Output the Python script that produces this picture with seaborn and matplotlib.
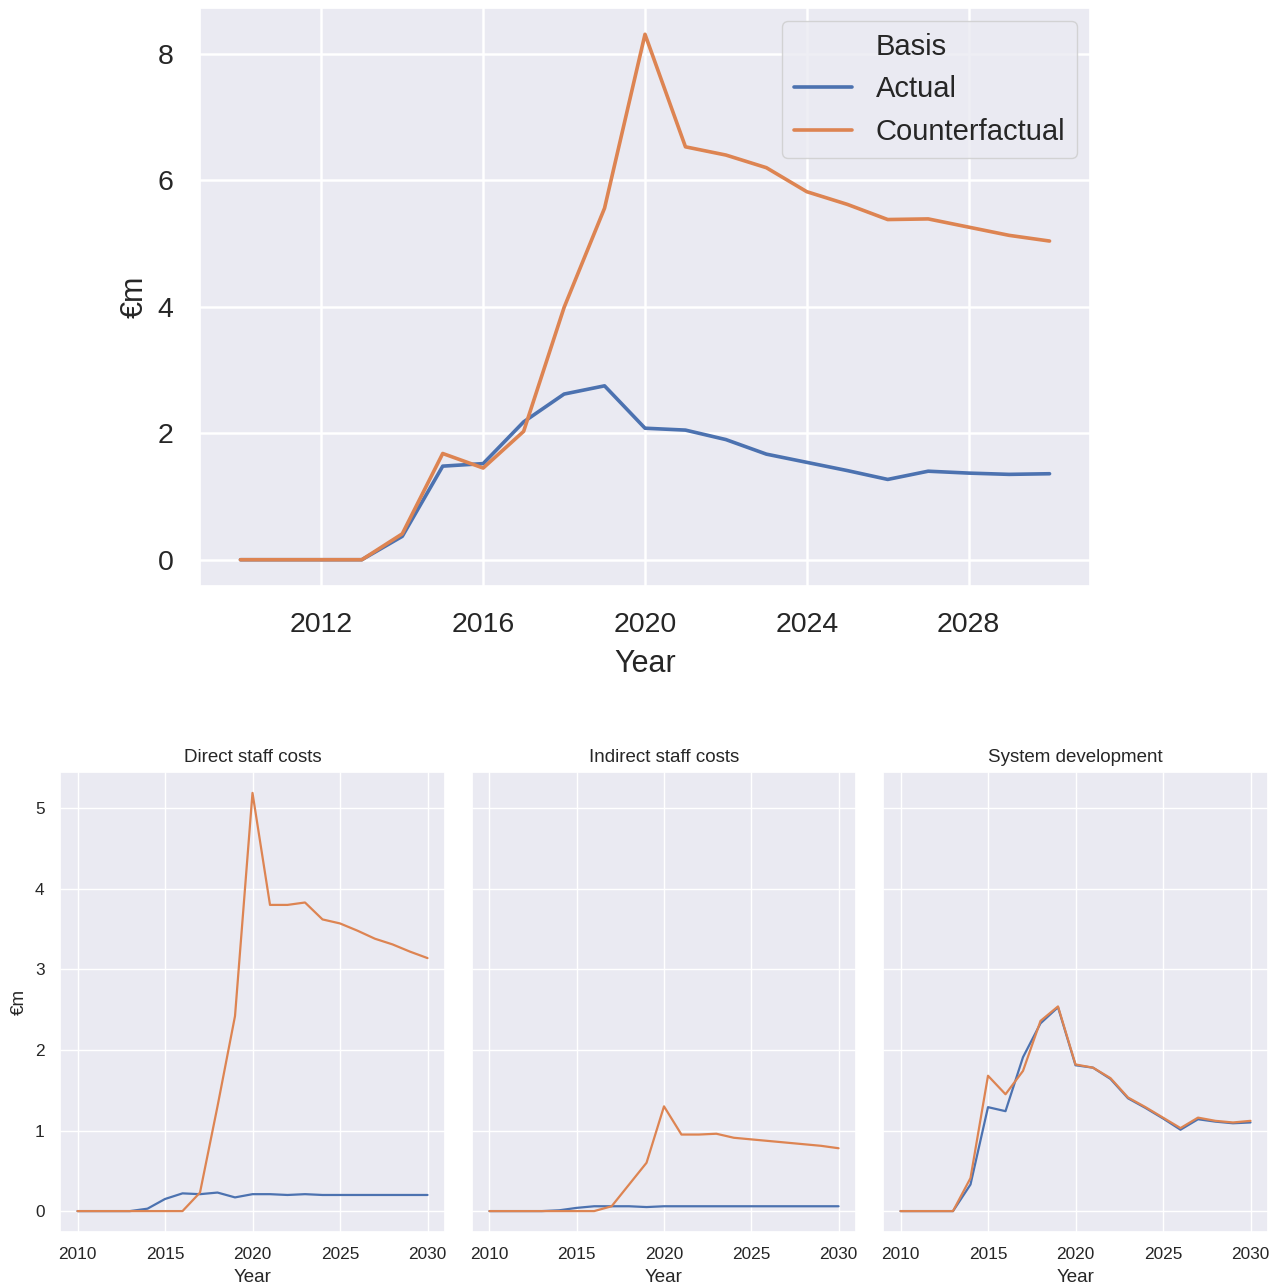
import matplotlib
matplotlib.use("Agg")
import matplotlib.pyplot as plt
from matplotlib.lines import Line2D
import pandas as pd
import seaborn as sns

# Annual costs (€m) per cost category, 2010-2030
years = list(range(2010, 2031))

direct_actual = [0, 0, 0, 0, 0.03, 0.15, 0.22, 0.21, 0.23, 0.17, 0.21,
                 0.21, 0.20, 0.21, 0.20, 0.20, 0.20, 0.20, 0.20, 0.20, 0.20]
direct_counterfactual = [0, 0, 0, 0, 0, 0, 0, 0.23, 1.30, 2.42, 5.19,
                         3.80, 3.80, 3.83, 3.62, 3.57, 3.48, 3.38, 3.31, 3.22, 3.14]

indirect_actual = [0, 0, 0, 0, 0.01, 0.04, 0.06, 0.06, 0.06, 0.05, 0.06,
                   0.06, 0.06, 0.06, 0.06, 0.06, 0.06, 0.06, 0.06, 0.06, 0.06]
indirect_counterfactual = [0, 0, 0, 0, 0, 0, 0, 0.06, 0.33, 0.60, 1.30,
                           0.95, 0.95, 0.96, 0.91, 0.89, 0.87, 0.85, 0.83, 0.81, 0.78]

system_actual = [0, 0, 0, 0, 0.33, 1.29, 1.24, 1.91, 2.33, 2.53, 1.81,
                 1.78, 1.64, 1.40, 1.28, 1.15, 1.01, 1.14, 1.11, 1.09, 1.10]
system_counterfactual = [0, 0, 0, 0, 0.41, 1.68, 1.45, 1.74, 2.36, 2.54, 1.82,
                         1.78, 1.65, 1.41, 1.29, 1.16, 1.03, 1.16, 1.12, 1.10, 1.12]

categories = ["Direct staff costs", "Indirect staff costs", "System development"]
bases = ["Actual", "Counterfactual"]
series = {
    ("Direct staff costs", "Actual"): direct_actual,
    ("Direct staff costs", "Counterfactual"): direct_counterfactual,
    ("Indirect staff costs", "Actual"): indirect_actual,
    ("Indirect staff costs", "Counterfactual"): indirect_counterfactual,
    ("System development", "Actual"): system_actual,
    ("System development", "Counterfactual"): system_counterfactual,
}

rows = []
for (cat, basis), vals in series.items():
    for yr, v in zip(years, vals):
        rows.append({"Year": yr, "Category": cat, "Basis": basis, "€m": v})
df = pd.DataFrame(rows)

sns.set_theme(style="darkgrid")
plt.rcParams["font.family"] = ["Liberation Sans", "DejaVu Sans"]
plt.rcParams["text.color"] = "#262626"
plt.rcParams["axes.labelcolor"] = "#262626"
plt.rcParams["xtick.color"] = "#262626"
plt.rcParams["ytick.color"] = "#262626"

palette = sns.color_palette("deep", 2)
W, H = 1282, 1287
fig = plt.figure(figsize=(W / 100, H / 100), dpi=100)


def box(left, top, right, bottom):
    return [left / W, 1 - bottom / H, (right - left) / W, (bottom - top) / H]


# Total across categories
ax = fig.add_axes(box(200, 8, 1090, 586))
sns.lineplot(data=df, x="Year", y="€m", hue="Basis", hue_order=bases,
             estimator="sum", errorbar=None, palette=palette,
             linewidth=2.6, ax=ax)
ax.set_xticks([2012, 2016, 2020, 2024, 2028])
ax.set_yticks([0, 2, 4, 6, 8])
ax.tick_params(labelsize=20.5, length=0, pad=19)
ax.grid(linewidth=1.8)
ax.set_xlabel("Year", fontsize=22, labelpad=8)
ax.set_ylabel("€m", fontsize=22, labelpad=6)
handles, labels = ax.get_legend_handles_labels()
title_handle = Line2D([], [], alpha=0)
leg = ax.legend([title_handle] + handles, ["Basis"] + labels,
                loc="upper right", fontsize=21, frameon=True,
                borderaxespad=0.45, handlelength=2.0, labelspacing=0.5,
                borderpad=0.4)
for h in leg.legend_handles[1:]:
    h.set_linewidth(2.6)

# One panel per category
spans = [(60, 445), (472, 856), (883, 1268)]
first = None
for i, (cat, (l, r)) in enumerate(zip(categories, spans)):
    a = fig.add_axes(box(l, 772, r, 1232), sharey=first)
    if first is None:
        first = a
    sns.lineplot(data=df[df["Category"] == cat], x="Year", y="€m",
                 hue="Basis", hue_order=bases, palette=palette,
                 linewidth=1.6, legend=False, ax=a)
    a.set_title(cat, fontsize=13.5, pad=7)
    a.set_xticks([2010, 2015, 2020, 2025, 2030])
    a.set_yticks([0, 1, 2, 3, 4, 5])
    a.tick_params(labelsize=12.4, length=0, pad=11)
    a.set_xlabel("Year", fontsize=13.5, labelpad=5)
    if i == 0:
        a.set_ylabel("€m", fontsize=13.5, labelpad=5)
    else:
        a.set_ylabel("")
        a.tick_params(labelleft=False)

fig.savefig("out.png", dpi=100)
